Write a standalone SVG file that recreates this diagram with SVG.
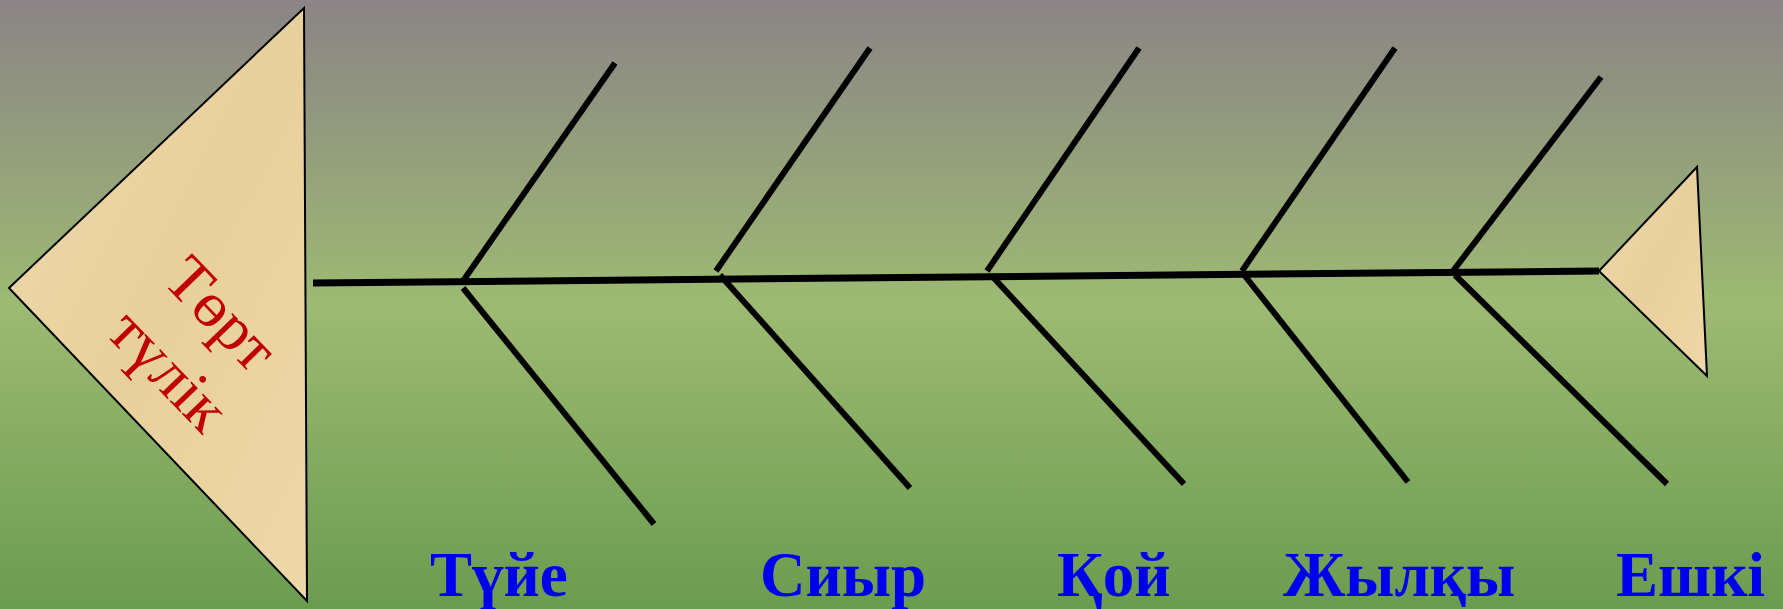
<svg xmlns="http://www.w3.org/2000/svg" width="1783" height="609" viewBox="0 0 1783 609">
<defs>
<linearGradient id="bg" x1="0" y1="0" x2="0" y2="1">
<stop offset="0" stop-color="#8b8486"/>
<stop offset="0.5" stop-color="#9dba72"/>
<stop offset="1" stop-color="#6a9c4f"/>
</linearGradient>
<linearGradient id="paper" x1="0" y1="0" x2="1" y2="1">
<stop offset="0" stop-color="#eedaac"/>
<stop offset="0.5" stop-color="#e8d09c"/>
<stop offset="1" stop-color="#eed8a8"/>
</linearGradient>
<style>
.tri{fill:url(#paper);stroke:#000;stroke-width:2;stroke-linejoin:miter}
.bone{stroke:#000;stroke-width:6;fill:none}
.spine{stroke:#000;stroke-width:7;fill:none}
.lbl{font-family:"Liberation Serif","Times New Roman",serif;font-weight:bold;font-size:63px;fill:#0000ee}
.head{font-family:"Liberation Serif","Times New Roman",serif;font-size:64px;fill:#c00000;text-anchor:middle}
</style>
</defs>
<rect x="0" y="0" width="1783" height="609" fill="url(#bg)"/>
<g id="head">
<polygon class="tri" points="9,288 304,8 307,601"/>
<g transform="translate(222,313) rotate(46)"><text class="head" x="0" y="22">Төрт</text></g>
<g transform="translate(166,373) rotate(46)"><text class="head" x="0" y="17">түлік</text></g>
</g>
<g id="tail">
<polygon class="tri" points="1599,271 1697,167 1707,376"/>
</g>
<g id="connectors">
<line class="spine" x1="313" y1="283" x2="1599" y2="271"/>
<line class="bone" x1="463" y1="281" x2="615" y2="63"/>
<line class="bone" x1="463" y1="288" x2="654" y2="524"/>
<line class="bone" x1="716" y1="271" x2="870" y2="48"/>
<line class="bone" x1="720" y1="275" x2="910" y2="488"/>
<line class="bone" x1="987" y1="271" x2="1139" y2="48"/>
<line class="bone" x1="992" y1="276" x2="1184" y2="484"/>
<line class="bone" x1="1242" y1="271" x2="1395" y2="48"/>
<line class="bone" x1="1245" y1="276" x2="1408" y2="482"/>
<line class="bone" x1="1453" y1="271" x2="1601" y2="77"/>
<line class="bone" x1="1455" y1="275" x2="1667" y2="484"/>
</g>
<g id="label-tuye"><text class="lbl" x="430" y="596">Түйе</text></g>
<g id="label-siyr"><text class="lbl" x="760" y="596">Сиыр</text></g>
<g id="label-qoy"><text class="lbl" x="1057" y="596">Қой</text></g>
<g id="label-zhylqy"><text class="lbl" x="1283" y="596">Жылқы</text></g>
<g id="label-eshki"><text class="lbl" x="1616" y="596">Ешкі</text></g>
</svg>
